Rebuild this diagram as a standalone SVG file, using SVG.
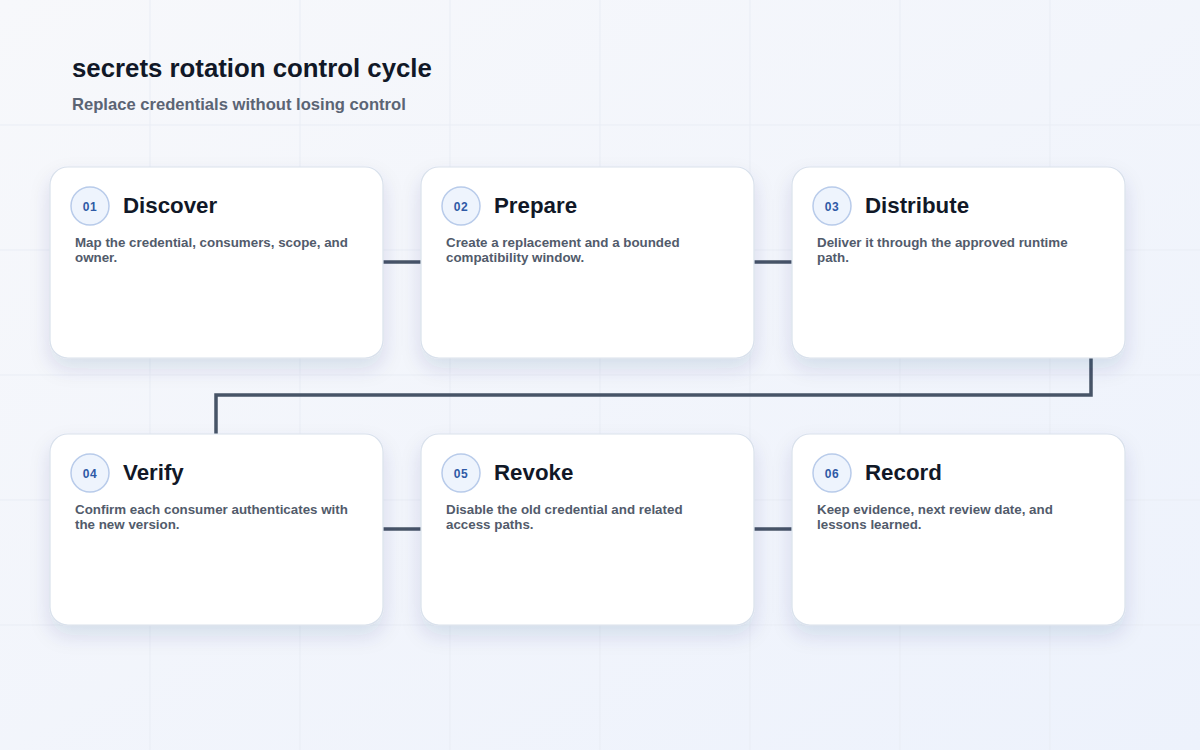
<svg xmlns="http://www.w3.org/2000/svg" width="1200" height="750" viewBox="0 0 1200 750">
  <defs>
    <linearGradient id="bg" x1="0" y1="0" x2="1" y2="1">
      <stop offset="0" stop-color="#f7f8fb"/>
      <stop offset="1" stop-color="#edf2fc"/>
    </linearGradient>
    <filter id="shadow" x="-20%" y="-20%" width="140%" height="150%">
      <feDropShadow dx="0" dy="10" stdDeviation="10" flood-color="#1e3a6e" flood-opacity="0.12"/>
    </filter>
  </defs>
  <style>
    .grid { stroke: #e9edf5; stroke-width: 1; }
    .card { fill: #ffffff; stroke: #d9e1ec; stroke-width: 1.2; filter: url(#shadow); }
    .badge { fill: #eef4fd; stroke: #b8cbea; stroke-width: 1.5; }
    .num { font-family: "Liberation Sans", Arial, sans-serif; font-size: 12px; font-weight: bold; fill: #2f5aa6; text-anchor: middle; letter-spacing: 0.5px; }
    .title { font-family: "Liberation Sans", Arial, sans-serif; font-size: 22.3px; font-weight: bold; fill: #111827; }
    .desc { font-family: "Liberation Sans", Arial, sans-serif; font-size: 13.35px; font-weight: bold; fill: #525b6b; }
    .conn { fill: none; stroke: #475467; stroke-width: 3.5; stroke-linejoin: miter; }
    .h1 { font-family: "Liberation Sans", Arial, sans-serif; font-size: 25.8px; font-weight: bold; fill: #111827; }
    .h2 { font-family: "Liberation Sans", Arial, sans-serif; font-size: 16.6px; font-weight: bold; fill: #5b6474; }
  </style>
  <rect x="0" y="0" width="1200" height="750" fill="url(#bg)"/>
  <g id="grid">
    <line class="grid" x1="150" y1="0" x2="150" y2="750"/>
    <line class="grid" x1="300" y1="0" x2="300" y2="750"/>
    <line class="grid" x1="450" y1="0" x2="450" y2="750"/>
    <line class="grid" x1="600" y1="0" x2="600" y2="750"/>
    <line class="grid" x1="750" y1="0" x2="750" y2="750"/>
    <line class="grid" x1="900" y1="0" x2="900" y2="750"/>
    <line class="grid" x1="1050" y1="0" x2="1050" y2="750"/>
    <line class="grid" x1="0" y1="125" x2="1200" y2="125"/>
    <line class="grid" x1="0" y1="250" x2="1200" y2="250"/>
    <line class="grid" x1="0" y1="375" x2="1200" y2="375"/>
    <line class="grid" x1="0" y1="500" x2="1200" y2="500"/>
    <line class="grid" x1="0" y1="625" x2="1200" y2="625"/>
  </g>
  <g id="header">
    <text class="h1" x="72" y="77">secrets rotation control cycle</text>
    <text class="h2" x="72" y="110">Replace credentials without losing control</text>
  </g>
  <g id="connectors">
    <line class="conn" x1="383" y1="262" x2="421" y2="262"/>
    <line class="conn" x1="754" y1="262" x2="792" y2="262"/>
    <polyline class="conn" points="1091,358 1091,395 216,395 216,434"/>
    <line class="conn" x1="383" y1="529" x2="421" y2="529"/>
    <line class="conn" x1="754" y1="529" x2="792" y2="529"/>
  </g>
  <g id="node-01">
    <rect class="card" x="50" y="167" width="333" height="191" rx="18"/>
    <circle class="badge" cx="90" cy="206" r="19"/>
    <text class="num" x="90" y="210.5">01</text>
    <text class="title" x="123" y="213">Discover</text>
    <text class="desc" x="75" y="247">Map the credential, consumers, scope, and</text>
    <text class="desc" x="75" y="262">owner.</text>
  </g>
  <g id="node-02">
    <rect class="card" x="421" y="167" width="333" height="191" rx="18"/>
    <circle class="badge" cx="461" cy="206" r="19"/>
    <text class="num" x="461" y="210.5">02</text>
    <text class="title" x="494" y="213">Prepare</text>
    <text class="desc" x="446" y="247">Create a replacement and a bounded</text>
    <text class="desc" x="446" y="262">compatibility window.</text>
  </g>
  <g id="node-03">
    <rect class="card" x="792" y="167" width="333" height="191" rx="18"/>
    <circle class="badge" cx="832" cy="206" r="19"/>
    <text class="num" x="832" y="210.5">03</text>
    <text class="title" x="865" y="213">Distribute</text>
    <text class="desc" x="817" y="247">Deliver it through the approved runtime</text>
    <text class="desc" x="817" y="262">path.</text>
  </g>
  <g id="node-04">
    <rect class="card" x="50" y="434" width="333" height="191" rx="18"/>
    <circle class="badge" cx="90" cy="473" r="19"/>
    <text class="num" x="90" y="477.5">04</text>
    <text class="title" x="123" y="480">Verify</text>
    <text class="desc" x="75" y="514">Confirm each consumer authenticates with</text>
    <text class="desc" x="75" y="529">the new version.</text>
  </g>
  <g id="node-05">
    <rect class="card" x="421" y="434" width="333" height="191" rx="18"/>
    <circle class="badge" cx="461" cy="473" r="19"/>
    <text class="num" x="461" y="477.5">05</text>
    <text class="title" x="494" y="480">Revoke</text>
    <text class="desc" x="446" y="514">Disable the old credential and related</text>
    <text class="desc" x="446" y="529">access paths.</text>
  </g>
  <g id="node-06">
    <rect class="card" x="792" y="434" width="333" height="191" rx="18"/>
    <circle class="badge" cx="832" cy="473" r="19"/>
    <text class="num" x="832" y="477.5">06</text>
    <text class="title" x="865" y="480">Record</text>
    <text class="desc" x="817" y="514">Keep evidence, next review date, and</text>
    <text class="desc" x="817" y="529">lessons learned.</text>
  </g>
</svg>
